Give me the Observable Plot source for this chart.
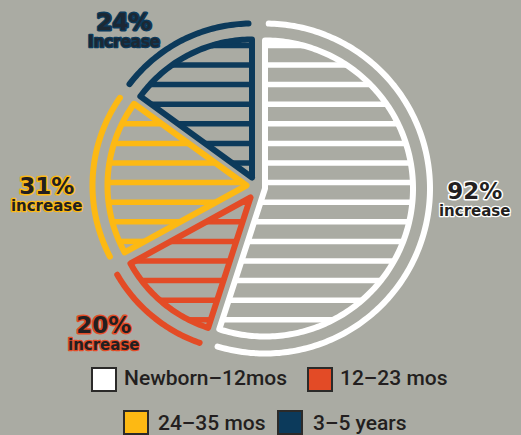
<!DOCTYPE html>
<html><head><meta charset="utf-8">
<script src="https://cdn.jsdelivr.net/npm/d3@7"></script>
<script src="https://cdn.jsdelivr.net/npm/@observablehq/plot@0.6"></script>
<style>
html,body{margin:0;padding:0;background:#aaaba3;}
#wrap{position:relative;width:521px;height:435px;overflow:hidden;background:#aaaba3;}
#wrap svg{position:absolute;left:0;top:0;}
.sw{position:absolute;width:26px;height:25px;box-sizing:border-box;border:2.5px solid #2b2a29;}
.lt{position:absolute;font-family:Roboto,sans-serif;font-weight:500;font-size:21px;line-height:25px;color:#231f20;white-space:nowrap;}
</style></head><body><div id="wrap"></div>
<script>
// ---- data ----
const categories = ["Newborn–12mos", "12–23 mos", "24–35 mos", "3–5 years"];
const shares = [55, 12, 18, 15];
const increaseValues = ["92%", "20%", "31%", "24%"];
const increaseWords = ["increase", "increase", "increase", "Increase"];

// ---- style / layout ----
const W = 521, H = 362;
const palette = ["#ffffff", "#e34b26", "#fdb913", "#0c3a5b"];
const labelFill = ["#231f20", "#231f20", "#231f20", "#1c2834"];
const apex = [[264.5, 188], [250, 197], [246, 185], [251.5, 177]];
const rInner = [148, 137, 139, 138];
const rOuter = [165, 154, 154, 154];
const labelPolar = [[93, 210], [227.2, 200], [267.7, 200], [319, 195]];
const hatchRows = d3.range(-1, 15).map(k => 64.5 + 19.6 * k);

const deg = Math.PI / 180;
const arcs = d3.pie().sort(null).value(d => d)(shares);
const outline = [], outer = [], hatch = [], labels = [];
arcs.forEach((a, i) => {
  const cat = categories[i];
  const [cx, cy] = apex[i];
  const r = rInner[i], ro = rOuter[i];
  const P = (rr, t) => ({cat, x: cx + rr * Math.sin(t), y: cy - rr * Math.cos(t)});
  outline.push({cat, x: cx, y: cy});
  const n = Math.ceil((a.endAngle - a.startAngle) / deg);
  for (let k = 0; k <= n; k++) outline.push(P(r, a.startAngle + (a.endAngle - a.startAngle) * k / n));
  outline.push({cat, x: cx, y: cy});
  const trim = 1.3 * deg, s = a.startAngle + trim, e = a.endAngle - trim;
  for (let k = 0; k <= n; k++) outer.push(P(ro, s + (e - s) * k / n));
  for (const yy of hatchRows) {
    const dy = yy - cy;
    if (Math.abs(dy) >= r - 1) continue;
    const half = Math.sqrt(r * r - dy * dy);
    let mn = Infinity, mx = -Infinity;
    for (let x = cx - half; x <= cx + half; x += 0.25) {
      let t = Math.atan2(x - cx, -dy);
      if (t < 0) t += 2 * Math.PI;
      if (x === cx && dy < 0 && i === arcs.length - 1) t = 2 * Math.PI;
      if (t >= a.startAngle - 1e-9 && t <= a.endAngle + 1e-9) { mn = Math.min(mn, x); mx = Math.max(mx, x); }
    }
    if (mx - mn > 2) hatch.push({cat, x1: mn, x2: mx, y: yy});
  }
  const [la, lr] = labelPolar[i];
  labels.push({cat, value: increaseValues[i], word: increaseWords[i], fill: labelFill[i],
    x: cx + lr * Math.sin(la * deg), y: cy - lr * Math.cos(la * deg)});
});

const chart = Plot.plot({
  width: W, height: H, margin: 0,
  x: {domain: [0, W], range: [0, W], axis: null},
  y: {domain: [0, H], range: [0, H], axis: null},
  color: {domain: categories, range: palette},
  style: {background: "transparent"},
  marks: [
    Plot.link(hatch, {x1: "x1", x2: "x2", y1: "y", y2: "y", stroke: "cat", strokeWidth: 5.5}),
    Plot.line(outline, {x: "x", y: "y", z: "cat", stroke: "cat", strokeWidth: 6, strokeLinejoin: "round"}),
    Plot.line(outer, {x: "x", y: "y", z: "cat", stroke: "cat", strokeWidth: 6, strokeLinecap: "round"}),
    Plot.text(labels, {x: "x", y: "y", text: "value", fill: d => d.fill, stroke: "cat", strokeWidth: 3, paintOrder: "stroke",
      fontSize: 23, fontWeight: "bold", fontFamily: "DejaVu Sans", lineAnchor: "bottom", textAnchor: "middle"}),
    Plot.text(labels, {x: "x", y: "y", text: "word", dy: 17, fill: d => d.fill, stroke: "cat", strokeWidth: 2.5, paintOrder: "stroke",
      fontSize: 15, fontWeight: "bold", fontFamily: "DejaVu Sans", lineAnchor: "bottom", textAnchor: "middle"})
  ]
});
const wrap = document.getElementById("wrap");
wrap.appendChild(chart);

// legend
const legendPos = [[91, 367, 124, 365.5], [307, 367, 340, 365.5], [123, 410, 158, 410.5], [277, 410, 313, 410.5]];
categories.forEach((c, i) => {
  const [sx, sy, tx, ty] = legendPos[i];
  const sw = document.createElement("div");
  sw.className = "sw"; sw.style.left = sx + "px"; sw.style.top = sy + "px"; sw.style.background = palette[i];
  const t = document.createElement("div");
  t.className = "lt"; t.style.left = tx + "px"; t.style.top = ty + "px"; t.textContent = c;
  wrap.appendChild(sw); wrap.appendChild(t);
});
</script></body></html>
